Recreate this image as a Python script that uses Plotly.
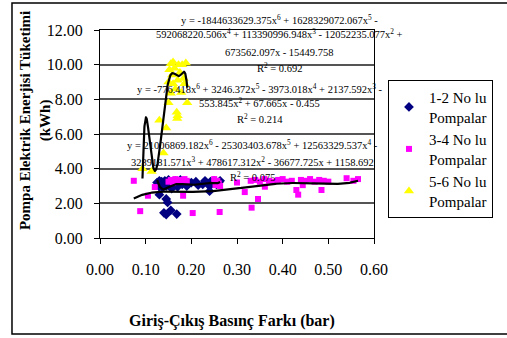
import numpy as np
import plotly.graph_objects as go

# ---------------- data ----------------
s1_name = "1-2 No lu<br>Pompalar"
s1_x = [0.125, 0.128, 0.130, 0.130, 0.132, 0.135, 0.137, 0.140, 0.142, 0.145, 0.147,
        0.150, 0.152, 0.155, 0.157, 0.160, 0.163, 0.165, 0.168, 0.170, 0.173, 0.176,
        0.180, 0.185, 0.190, 0.195, 0.200, 0.210, 0.215, 0.225, 0.230, 0.240, 0.240,
        0.242, 0.250, 0.255, 0.260, 0.263,
        0.130, 0.145, 0.148, 0.140, 0.145, 0.155, 0.168]
s1_y = [3.20, 3.05, 3.30, 2.95, 3.15, 3.25, 2.90, 3.10, 3.30, 3.00, 3.20,
        3.35, 3.05, 3.15, 2.85, 3.25, 3.05, 3.30, 3.15, 2.95, 3.20, 3.35,
        3.10, 3.25, 3.00, 3.15, 3.20, 3.25, 3.05, 3.10, 3.30, 2.70, 3.00,
        3.25, 3.30, 3.10, 3.20, 3.30,
        2.50, 2.25, 2.05, 1.45, 1.35, 1.60, 1.38]

s2_name = "3-4 No lu<br>Pompalar"
s2_x = [0.074, 0.088, 0.105, 0.120, 0.150, 0.155, 0.160, 0.165, 0.170, 0.175, 0.180,
        0.185, 0.182, 0.190, 0.203, 0.250, 0.253, 0.257, 0.260, 0.263, 0.262,
        0.300, 0.317, 0.332, 0.346, 0.361, 0.330, 0.340, 0.350, 0.360, 0.370,
        0.380, 0.390, 0.400, 0.410, 0.420, 0.430, 0.434, 0.444, 0.440, 0.450,
        0.460, 0.470, 0.480, 0.485, 0.490, 0.500, 0.540, 0.555, 0.565]
s2_y = [3.30, 1.55, 2.44, 2.94, 3.25, 3.35, 3.20, 3.40, 3.30, 3.35, 3.25,
        3.40, 2.44, 3.30, 1.44, 3.40, 3.05, 3.30, 3.15, 3.00, 1.50,
        3.20, 2.65, 1.75, 2.25, 2.96, 3.30, 3.35, 3.25, 3.40, 3.30,
        3.25, 3.35, 3.40, 3.25, 3.30, 2.77, 2.50, 3.05, 3.35, 3.30,
        3.40, 3.25, 3.35, 2.77, 3.30, 3.25, 3.45, 3.30, 3.40]

s3_name = "5-6 No lu<br>Pompalar"
s3_x = [0.093, 0.113, 0.130, 0.139, 0.145, 0.150, 0.150, 0.152, 0.155, 0.155, 0.158,
        0.160, 0.160, 0.163, 0.165, 0.168, 0.169, 0.170, 0.170, 0.172, 0.175, 0.178,
        0.180, 0.183, 0.185, 0.188, 0.191]
s3_y = [4.00, 3.83, 6.80, 4.90, 6.35, 7.80, 9.00, 9.70, 8.35, 10.05, 9.40,
        10.15, 8.90, 9.80, 8.60, 7.25, 6.90, 7.05, 9.10, 10.00, 9.55, 8.40,
        10.00, 9.20, 8.90, 10.10, 7.80]

# polynomial trendline coefficients (x^6 ... x^0), as printed on the chart
c3 = [-1844633629.375, 1628329072.067, -592068220.506, 113390996.948,
      -12052235.077, 673562.097, -15449.758]
r2_3 = "0.692"
c2 = [-776.418, 3246.372, -3973.018, 2137.592, -553.845, 67.665, -0.455]
r2_2 = "0.214"
c1 = [21006869.182, -25303403.678, 12563329.537, -3289181.571,
      478617.312, -36677.725, 1158.692]
r2_1 = "0.075"

x_ticks = [0.0, 0.1, 0.2, 0.3, 0.4, 0.5, 0.6]
y_ticks = [0, 2, 4, 6, 8, 10, 12]
Y_MAX = 12

FONT = "Liberation Serif, Times New Roman, serif"


def term_text(c, p):
    v = f"{abs(c):.3f}"
    if p == 0:
        return v
    if p == 1:
        return v + "x"
    return v + f"x<sup>{p}</sup>"


def poly_lines(coefs, breaks):
    n = len(coefs) - 1
    lines = []
    cur = "y = " + ("-" if coefs[0] < 0 else "") + term_text(coefs[0], n)
    for i in range(1, len(coefs)):
        sign = "-" if coefs[i] < 0 else "+"
        if i in breaks:
            lines.append(cur + " " + sign)
            cur = term_text(coefs[i], n - i)
        else:
            cur += f" {sign} " + term_text(coefs[i], n - i)
    lines.append(cur)
    return lines


def trend(coefs, xs):
    xx = np.linspace(min(xs), max(xs), 400)
    return xx, np.polyval(coefs, xx)


fig = go.Figure()

fig.add_trace(go.Scatter(x=s1_x, y=s1_y, mode="markers", name=s1_name,
                         marker=dict(symbol="diamond", size=7.5, color="#000080")))
fig.add_trace(go.Scatter(x=s2_x, y=s2_y, mode="markers", name=s2_name,
                         marker=dict(symbol="square", size=6, color="#FF00FF")))
fig.add_trace(go.Scatter(x=s3_x, y=s3_y, mode="markers", name=s3_name,
                         marker=dict(symbol="triangle-up", size=9, color="#FFFF00")))

for coefs, xs in [(c1, s1_x), (c2, s2_x), (c3, s3_x)]:
    tx, ty = trend(coefs, xs)
    fig.add_trace(go.Scatter(x=tx, y=ty, mode="lines", showlegend=False,
                             line=dict(color="black", width=2.2), hoverinfo="skip"))

annotations = []
blocks = [
    (c3, r2_3, [2, 5], 0.392, [12.63, 11.77, 10.73, 9.81]),
    (c2, r2_2, [4], 0.350, [8.65, 7.79, 6.92]),
    (c1, r2_1, [3], 0.335, [5.37, 4.44, 3.52]),
]
for coefs, r2, br, cx, ys in blocks:
    lines = poly_lines(coefs, br) + [f"R<sup>2</sup> = {r2}"]
    for ln, yy in zip(lines, ys):
        annotations.append(dict(x=cx / 0.6, y=yy / Y_MAX, xref="paper", yref="paper",
                                text=ln, showarrow=False,
                                xanchor="center", yanchor="middle",
                                font=dict(family=FONT, size=10.5, color="black")))

annotations.append(dict(x=0.482, y=-0.40, xref="paper", yref="paper",
                        xanchor="center", yanchor="middle",
                        text="<b>Giriş-Çıkış Basınç Farkı (bar)</b>", showarrow=False,
                        font=dict(family=FONT, size=16, color="black")))
annotations.append(dict(x=-0.237, y=0.5625, xref="paper", yref="paper", textangle=-90,
                        xanchor="center", yanchor="middle",
                        text="<b>Pompa Elektrik Enerjisi Tüketimi<br>(kWh)</b>",
                        showarrow=False,
                        font=dict(family=FONT, size=15, color="black")))

fig.update_layout(
    width=507, height=338,
    margin=dict(l=100, r=133, t=30, b=100),
    paper_bgcolor="white", plot_bgcolor="white",
    font=dict(family=FONT, size=16, color="black"),
    annotations=annotations,
    legend=dict(x=1.051, y=0.76, xanchor="left", yanchor="top",
                bordercolor="black", borderwidth=1, bgcolor="white",
                font=dict(family=FONT, size=15, color="black"),
                itemwidth=30),
    shapes=[dict(type="rect", xref="paper", yref="paper",
                 x0=-0.3212, x1=1.52, y0=-0.4615, y1=1.1298,
                 line=dict(color="black", width=1.5), layer="below")],
)

fig.update_xaxes(range=[0, 0.6], tickvals=x_ticks, tickformat=".2f",
                 showline=True, linecolor="black", linewidth=1, mirror=True,
                 ticks="outside", ticklen=5, tickcolor="black",
                 showgrid=False, zeroline=False, ticklabelstandoff=12)
fig.update_yaxes(range=[0, Y_MAX], tickvals=y_ticks, tickformat=".2f",
                 showline=True, linecolor="black", linewidth=1, mirror=True,
                 ticks="outside", ticklen=5, tickcolor="black",
                 showgrid=True, gridcolor="#555555", gridwidth=1.5,
                 zeroline=False, ticklabelstandoff=8)

fig.write_html("out.html")
